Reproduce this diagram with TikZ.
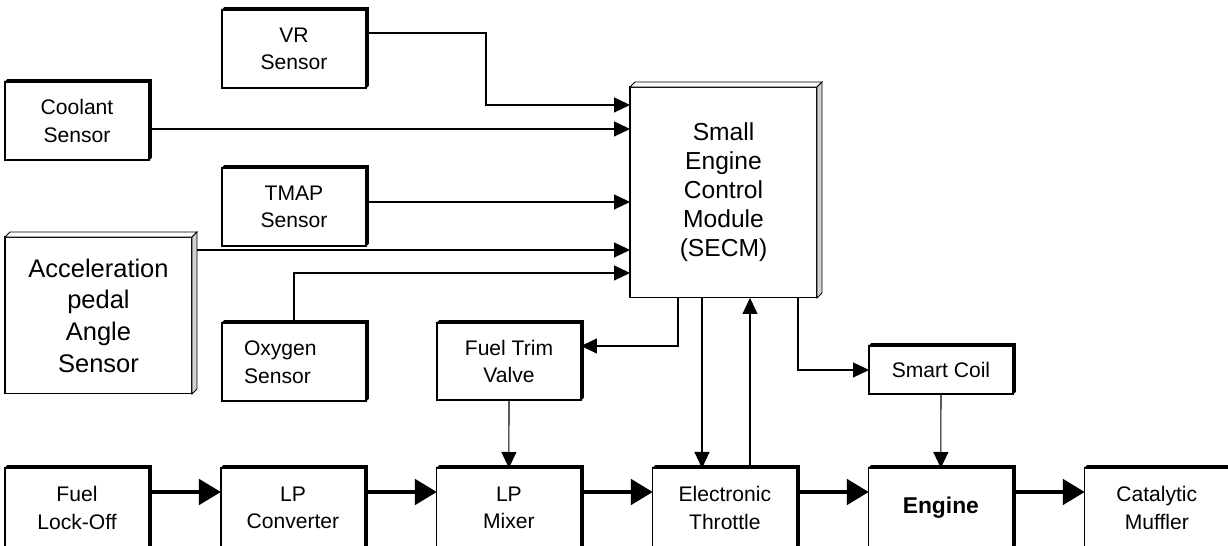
\documentclass[tikz,border=0pt]{standalone}
\usepackage{fontspec}
\setmainfont{Liberation Sans}
\usetikzlibrary{arrows.meta, positioning}

\begin{document}
\begin{tikzpicture}[
		x=0.02cm, y=0.02cm,
		node distance=1.44cm,
		box/.style={rectangle, draw, fill=white, line width=0.6pt, inner sep=0pt, outer sep=0pt, minimum width=2.88cm, minimum height=1.56cm, align=center, font=\fontsize{12}{15.7}\selectfont},
		bigbox/.style={box, minimum width=3.74cm},
		rowbox/.style={box, minimum height=1.6cm},
		sig/.style={-{Triangle[length=0.32cm, width=0.3cm]}, line width=0.6pt},
		flow/.style={-{Triangle[length=0.44cm, width=0.5cm]}, line width=2.7pt}
		]
		\useasboundingbox (0,0) rectangle (1228,546);
		\clip (0,0) rectangle (1228,546);
		
		% Sensors
		\node[box] (vr) at (294,497) {VR\\Sensor};
		\node[box] (coolant) at (77,425) {Coolant\\Sensor};
		\node[box] (tmap) at (294,339) {TMAP\\Sensor};
		\node[bigbox, minimum height=3.14cm, font=\fontsize{14.5}{18}\selectfont] (accel) at (98.5,230.5) {Acceleration\\pedal\\Angle\\Sensor};
		\node[box, text width=2cm, align=left] (oxygen) at (294,184) {Oxygen\\Sensor};
		
		% Controller and actuators
		\node[bigbox, minimum height=4.22cm, font=\fontsize{14}{16.5}\selectfont] (secm) at (723.5,353.5) {Small\\Engine\\Control\\Module\\(SECM)};
		\node[box, minimum height=1.54cm] (fueltrim) at (509,184.5) {Fuel Trim\\Valve};
		\node[box, minimum height=0.96cm] (smartcoil) at (941,176) {Smart Coil};
		
		% Fuel path
		\node[rowbox] (fuellock) at (77,38) {Fuel\\Lock-Off};
		\node[rowbox] (lpconv) [right=of fuellock] {LP\\Converter};
		\node[rowbox] (lpmix) [right=of lpconv] {LP\\Mixer};
		\node[rowbox] (throttle) [right=of lpmix] {Electronic\\Throttle};
		\node[rowbox, font=\fontsize{13}{16}\selectfont\bfseries] (engine) [right=of throttle] {Engine};
		\node[rowbox] (muffler) [right=of engine] {Catalytic\\Muffler};
		
		% Raised edges
		\foreach \n in {vr,coolant,tmap,oxygen,fueltrim,smartcoil,fuellock,lpconv,lpmix,throttle,engine,muffler}
		\draw[fill=black, line width=0.5pt] (\n.north west) -- ++(2.5,2.5) -- ([shift={(2.5,2.5)}]\n.north east) -- ([shift={(2.5,2.5)}]\n.south east) -- (\n.south east) -- (\n.north east) -- cycle;
		
		% Signals
		\draw[sig] (vr.east |- 0,513) -| (486,441) -- (secm.west |- 0,441);
		\draw[sig] (coolant.east |- 0,417) -- (secm.west |- 0,417);
		\draw[sig] (tmap.east |- 0,344) -- (secm.west |- 0,344);
		\draw[sig] (accel.east |- 0,296) -- (secm.west |- 0,296);
		\draw[sig] (oxygen.north) |- (secm.west |- 0,273);
		\draw[sig] (secm.south -| 678,0) |- (fueltrim.east |- 0,200);
		\draw[sig] (secm.south -| 702,0) -- (throttle.north -| 702,0);
		\draw[sig] (throttle.north -| 750,0) -- (secm.south -| 750,0);
		\draw[sig] (secm.south -| 798,0) |- (smartcoil.west);
		\draw[sig] (fueltrim.south) -- (lpmix.north);
		\draw[sig] (smartcoil.south) -- (engine.north);
		
		% Flow
		\foreach \a/\b in {fuellock/lpconv, lpconv/lpmix, lpmix/throttle, throttle/engine, engine/muffler}
		\draw[flow] (\a.east |- 0,54) -- (\b.west |- 0,54);
		
		% Raised edges of the large boxes
		\foreach \n in {accel,secm} {
			\draw[fill=white, line width=0.5pt] (\n.north west) -- ++(5,5) -- ([shift={(5,5)}]\n.north east) -- (\n.north east) -- cycle;
			\draw[fill=gray!35, line width=0.5pt] (\n.north east) -- ++(5,5) -- ([shift={(5,5)}]\n.south east) -- (\n.south east) -- cycle;
		}
	\end{tikzpicture}
\end{document}
